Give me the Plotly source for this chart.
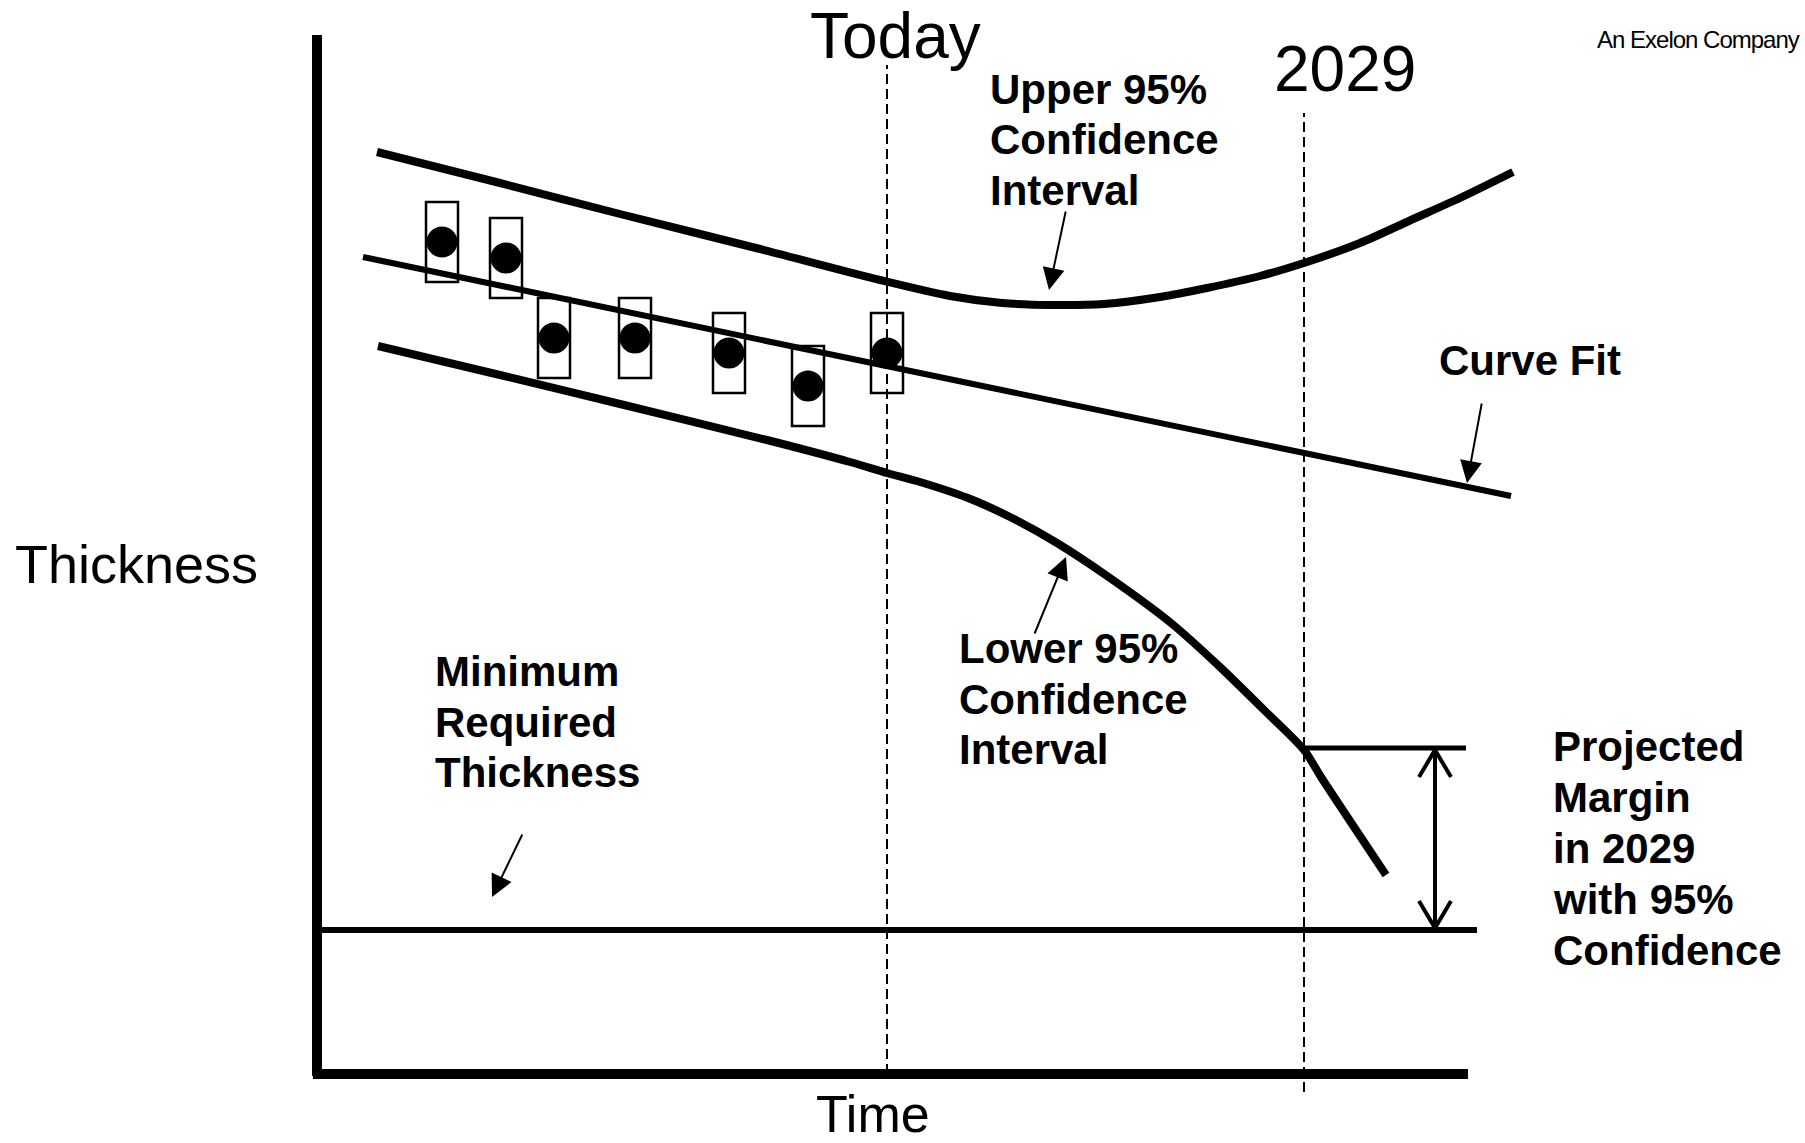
import plotly.graph_objects as go

# ---- data (time and thickness in the diagram's own units) ----
reading_time = [442, 506, 554, 635, 729, 808, 887]
reading_thickness = [901, 885, 805, 805, 790, 757, 790]
reading_uncertainty = 40

fit_time = [363, 1511]
fit_thickness = [886, 647]

upper_time = [377, 500, 620, 760, 880, 950, 1002, 1050, 1104, 1160, 1207, 1260, 1304, 1360, 1411, 1460, 1513]
upper_thickness = [991, 960, 929, 894, 863, 847, 840, 838, 839, 846, 855, 867, 880, 900, 923, 945, 971]

lower_time = [378, 500, 620, 767, 850, 887, 920, 968, 1010, 1057, 1110, 1171, 1220, 1264, 1304, 1321, 1386]
lower_thickness = [797, 768, 739, 703, 681, 670, 661, 645, 626, 600, 565, 520, 476, 433, 393, 366, 268]

min_required = 213
min_required_span = [320, 1477]

today_time = 887
target_time = 1304          # 2029
margin_top = 395            # lower bound at 2029
margin_arrow_time = 1435
margin_span = [1304, 1466]

axis_origin = [317, 69]
axis_ends = [1468, 1108]

X_RANGE = [0, 1805]
Y_RANGE = [0, 1143]

FONT = "Liberation Sans, Arial, Helvetica, sans-serif"
BOLD = dict(family=FONT, size=42, color="black", weight="bold")

fig = go.Figure()

# confidence bounds and fitted trend
fig.add_trace(go.Scatter(x=upper_time, y=upper_thickness, mode="lines",
                         line=dict(color="black", width=8, shape="spline", smoothing=0.8)))
fig.add_trace(go.Scatter(x=lower_time, y=lower_thickness, mode="lines",
                         line=dict(color="black", width=8, shape="spline", smoothing=0.8)))
fig.add_trace(go.Scatter(x=fit_time, y=fit_thickness, mode="lines",
                         line=dict(color="black", width=6)))

# measurement uncertainty boxes
for t, v in zip(reading_time, reading_thickness):
    fig.add_shape(type="rect", xref="x", yref="y",
                  x0=t - 16, x1=t + 16,
                  y0=v - reading_uncertainty, y1=v + reading_uncertainty,
                  line=dict(color="black", width=2.5), fillcolor="rgba(0,0,0,0)")

# measured readings
fig.add_trace(go.Scatter(x=reading_time, y=reading_thickness, mode="markers",
                         marker=dict(color="black", size=31, line=dict(width=0))))

# axes
fig.add_shape(type="line", x0=axis_origin[0], x1=axis_origin[0], y0=axis_origin[1] - 2, y1=axis_ends[1],
              line=dict(color="black", width=10))
fig.add_shape(type="line", x0=axis_origin[0] - 4, x1=axis_ends[0], y0=axis_origin[1], y1=axis_origin[1],
              line=dict(color="black", width=10))

# minimum required thickness
fig.add_shape(type="line", x0=min_required_span[0], x1=min_required_span[1], y0=min_required, y1=min_required,
              line=dict(color="black", width=6))

# today and 2029 markers
fig.add_shape(type="line", x0=today_time, x1=today_time, y0=axis_origin[1], y1=1078,
              line=dict(color="black", width=2, dash="10px,5px"))
fig.add_shape(type="line", x0=target_time, x1=target_time, y0=51, y1=1030,
              line=dict(color="black", width=2, dash="10px,5px"))

# projected margin bracket
fig.add_shape(type="line", x0=margin_span[0], x1=margin_span[1], y0=margin_top, y1=margin_top,
              line=dict(color="black", width=5))
fig.add_trace(go.Scatter(x=[margin_arrow_time, margin_arrow_time], y=[margin_top - 3, min_required + 3],
                         mode="lines", line=dict(color="black", width=4)))
for tip, d in [(margin_top - 2, -1), (min_required + 2, 1)]:
    fig.add_trace(go.Scatter(x=[margin_arrow_time - 16, margin_arrow_time, margin_arrow_time + 16],
                             y=[tip + d * 27, tip, tip + d * 27],
                             mode="lines", line=dict(color="black", width=4)))

# text labels
def label(x, y, text, font, anchor="left"):
    fig.add_annotation(x=x, y=y, xref="x", yref="y", text=text, showarrow=False,
                       xanchor=anchor, yanchor="middle", font=font)

plain = lambda s: dict(family=FONT, size=s, color="black")

label(895, 1107, "Today", plain(64), "center")
label(1345, 1074, "2029", plain(64), "center")
label(136, 579, "Thickness", plain(54), "center")
label(873, 29, "Time", plain(52), "center")
label(1698, 1104, '<span style="letter-spacing:-1px">An Exelon Company</span>',
      dict(family=FONT, size=24, color="black"), "center")

for y, s in zip([1054, 1004, 953], ["Upper 95%", "Confidence", "Interval"]):
    label(988, y, s, BOLD)
label(1437, 783, "Curve Fit", BOLD)
for y, s in zip([495, 444, 394], ["Lower 95%", "Confidence", "Interval"]):
    label(957, y, s, BOLD)
for y, s in zip([472, 421, 371], ["Minimum", "Required", "Thickness"]):
    label(433, y, s, BOLD)
for y, s in zip([397, 346, 295, 244, 193], ["Projected", "Margin", "in 2029", "with 95%", "Confidence"]):
    label(1551, y, s, BOLD)

# pointer arrows from labels to curves
def pointer(tail, tip):
    fig.add_annotation(x=tip[0], y=tip[1], ax=tail[0], ay=tail[1],
                       xref="x", yref="y", axref="x", ayref="y",
                       text="", showarrow=True, arrowhead=2, arrowsize=2.2,
                       arrowwidth=2, arrowcolor="black")

pointer((1066, 933), (1049, 853))
pointer((1482, 741), (1467, 660))
pointer((1034, 508), (1066, 586))
pointer((523, 310), (492, 246))

fig.update_layout(
    width=1805, height=1143,
    margin=dict(l=0, r=0, t=0, b=0),
    paper_bgcolor="white", plot_bgcolor="white",
    showlegend=False,
    xaxis=dict(range=X_RANGE, visible=False, fixedrange=True),
    yaxis=dict(range=Y_RANGE, visible=False, fixedrange=True),
)

fig.write_html("out.html")
